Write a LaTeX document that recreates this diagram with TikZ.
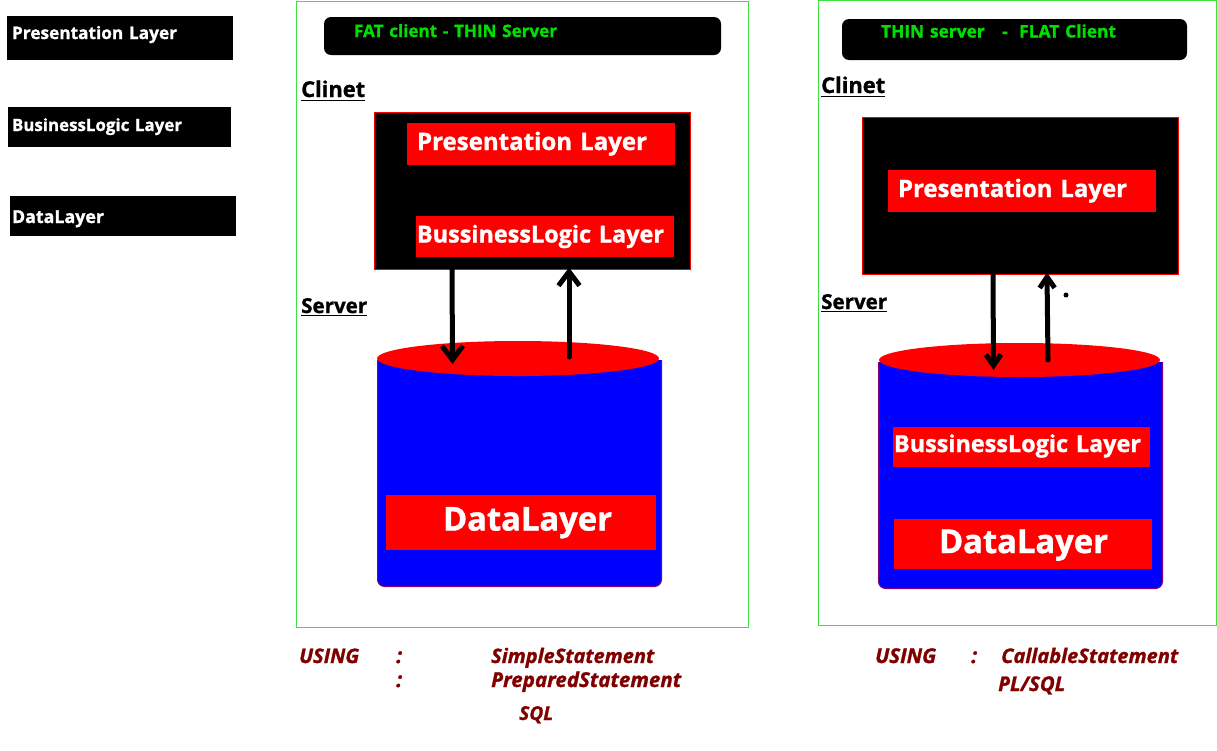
\documentclass[tikz,border=0pt]{standalone}
\usepackage{fontspec}
\usepackage{graphicx}
\setmainfont{Open Sans}[BoldFeatures={FakeBold=1.2},BoldItalicFeatures={FakeBold=1.2}]
\usetikzlibrary{arrows.meta,shapes.geometric}
\definecolor{termgreen}{HTML}{00E000}
\definecolor{panelgreen}{HTML}{40E040}
\definecolor{darkmaroon}{HTML}{800000}
\newcommand\tx[4]{\hspace*{#1pt}\raisebox{-#2pt}{\resizebox{#3pt}{!}{\bfseries #4}}}
\tikzset{
  x=1pt,y=-1pt,
  area/.style args={#1,#2,#3,#4}{at={({(#1+#3)/2},{(#2+#4)/2})},
    minimum width=(#3-#1)*1pt,minimum height=(#4-#2)*1pt,text width=(#3-#1)*1pt,
    inner sep=0pt,outer sep=0pt,text height=0pt,text depth=0pt,align=left},
  sidebox/.style={rectangle,fill=black,text=white},
  titlebar/.style={rectangle,rounded corners=7pt,fill=black,text=termgreen},
  panel/.style={rectangle,draw=panelgreen,line width=1pt,fill=none},
  tier/.style={rectangle,fill=black,draw=red,line width=1pt},
  layerbox/.style={rectangle,fill=red,text=white},
  lid/.style={ellipse,fill=red,inner sep=0pt,outer sep=0pt},
  cylbody/.style={fill=blue,draw=red!50!blue,line width=1pt,rounded corners=7pt},
  heading/.style={anchor=base west,inner sep=0pt,text=black},
  note/.style={anchor=base west,inner sep=0pt,text=darkmaroon},
  flow/.style={draw=black,line width=5pt,line cap=round,shorten >=-2pt,
    -{Straight Barb[length=14pt,width=21pt,line width=5pt]}},
  flownarrow/.style={draw=black,line width=5pt,line cap=round,shorten >=-2pt,
    -{Straight Barb[length=11pt,width=15pt,line width=5pt]}},
}
\newcommand\hd[1]{\underline{\smash{\bfseries #1}}}
\newcommand\nt[2]{\resizebox{#1pt}{!}{\bfseries\itshape #2}}
\begin{document}
\begin{tikzpicture}
\useasboundingbox (0,0) rectangle (1217,750);
% side legend
\node[sidebox,area={7,16,233,60}] (legendP) {\tx{5}{1}{165}{Presentation Layer}};
\node[sidebox,area={8,107,231,147}] (legendB) {\tx{4}{4}{170}{BusinessLogic Layer}};
\node[sidebox,area={10,196,236,236}] (legendD) {\tx{2}{7}{92}{DataLayer}};
% panels
\node[panel,minimum width=452pt,minimum height=626pt,inner sep=0pt] (panelA) at (522.5,314) {};
\node[panel,minimum width=398pt,minimum height=625pt,inner sep=0pt] (panelB) at (1017,312.5) {};
% title bars
\node[titlebar,area={324,17,721,55}] (titleA) {\tx{30}{1}{203}{FAT client - THIN Server}};
\node[titlebar,area={842,19,1187,60}] (titleB) {\tx{39}{-2}{235}{THIN server\ \ \ -\ \ FLAT Client}};
% headings
\node[heading] (clientA) at (301,97) {\resizebox{64pt}{!}{\hd{Clinet}}};
\node[heading] (serverA) at (301,313) {\resizebox{66pt}{!}{\hd{Server}}};
\node[heading] (clientB) at (821,93) {\resizebox{64pt}{!}{\hd{Clinet}}};
\node[heading] (serverB) at (821,309) {\resizebox{66pt}{!}{\hd{Server}}};
% cylinders
\draw[cylbody] (377.5,360) -- (377.5,586.5) -- (661.5,586.5) -- (661.5,360);
\draw[cylbody] (878.5,362) -- (878.5,588.5) -- (1162.5,588.5) -- (1162.5,362);
\node[lid,minimum width=282pt,minimum height=35pt] (lidA) at (518,358.5) {};
\node[lid,minimum width=281pt,minimum height=34pt] (lidB) at (1019.5,360) {};
% tiers
\node[tier,area={374.5,112.5,690.5,269.5}] (tierA) {};
\node[tier,area={862.5,117.5,1178.5,274.5}] (tierB) {};
\node[layerbox,area={407,123,675,165}] (presA) {\tx{10}{6}{230}{Presentation Layer}};
\node[layerbox,area={416,216,674,257}] (bizA) {\tx{1}{6}{247}{BussinessLogic Layer}};
\node[layerbox,area={386,495,656,550}] (dataA) {\tx{57}{8}{169}{DataLayer}};
\node[layerbox,area={888,170,1156,212}] (presB) {\tx{10}{6}{229}{Presentation Layer}};
\node[layerbox,area={893,427,1150,467}] (bizB) {\tx{1}{5}{247}{BussinessLogic Layer}};
\node[layerbox,area={894,519,1152,569}] (dataB) {\tx{45}{9}{169}{DataLayer}};
% arrows
\draw[flow] ([xshift=-80.5pt]tierA.south) -- ([xshift=-65.5pt,yshift=-3.5pt]lidA.center);
\draw[flow] ([xshift=51pt,yshift=1.5pt]lidA.center) -- ([xshift=36.5pt]tierA.south);
\draw[flownarrow] ([xshift=-27.5pt]tierB.south) -- ([xshift=-26pt,yshift=-8pt]lidB.center);
\draw[flownarrow] ([xshift=28.5pt]lidB.center) -- ([xshift=26.5pt]tierB.south);
\node[circle,fill=black,minimum size=5pt,inner sep=0pt] (speck) at (1066,295) {};
% notes
\node[note] (usingA) at (299,663) {\nt{60}{USING}};
\node[note] (colonA) at (396,663) {\nt{6}{:}};
\node[note] (simple) at (491,663) {\nt{163}{SimpleStatement}};
\node[note] (colonB) at (396,687) {\nt{6}{:}};
\node[note] (prepared) at (491,687) {\nt{190}{PreparedStatement}};
\node[note] (sql) at (519,720) {\nt{34}{SQL}};
\node[note] (usingB) at (875,663) {\nt{61}{USING}};
\node[note] (colonC) at (971,663) {\nt{6}{:}};
\node[note] (callable) at (1001,663) {\nt{177}{CallableStatement}};
\node[note] (plsql) at (998,691) {\nt{67}{PL/SQL}};
\end{tikzpicture}
\end{document}
